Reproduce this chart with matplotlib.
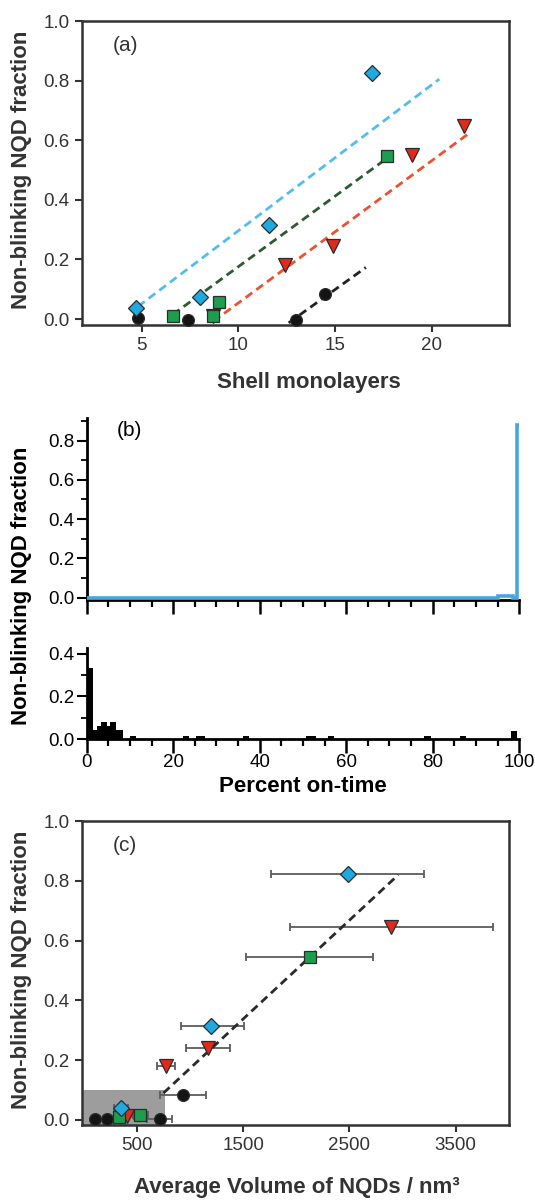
import numpy as np
import matplotlib
matplotlib.use('Agg')
import matplotlib.pyplot as plt
from matplotlib.patches import Rectangle
from matplotlib.ticker import MultipleLocator

plt.rcParams['font.family'] = ['Liberation Sans', 'DejaVu Sans']

# -------------------------------------------------------
# panel (a): non-blinking fraction vs shell monolayers
blue_ml = [4.7, 8.0, 11.6, 16.9]
blue_frac = [0.037, 0.073, 0.314, 0.826]
green_ml = [6.6, 8.7, 9.0, 17.7]
green_frac = [0.009, 0.009, 0.057, 0.546]
red_ml = [8.7, 12.4, 14.9, 19.0, 21.7]
red_frac = [0.010, 0.182, 0.244, 0.551, 0.647]
black_ml = [4.8, 7.4, 13.0, 14.5]
black_frac = [0.004, -0.002, -0.002, 0.084]

# end points of the dashed linear fits
blue_fit_x = [4.8, 20.4]
blue_fit_y = [0.042, 0.805]
green_fit_x = [6.6, 17.6]
green_fit_y = [0.015, 0.535]
red_fit_x = [8.7, 22.0]
red_fit_y = [-0.008, 0.626]
black_fit_x = [12.6, 16.6]
black_fit_y = [-0.013, 0.173]

# -------------------------------------------------------
# panel (b): on-time histograms
blue_edges = [0, 95, 98.5, 99.5, 100]
blue_hist = [0.0, 0.01, 0.0, 0.88]
black_edges = [0, 1.5, 2.3, 3.3, 4.7, 5.3, 6.7, 8.5, 10, 11.5, 22.3, 23.6,
               25.2, 27.3, 36.2, 37.6, 50.8, 53.1, 55.8, 57.3, 78.1, 79.6,
               86.2, 87.7, 98.0, 99.6]
black_hist = [0.335, 0.04, 0.06, 0.08, 0.06, 0.08, 0.04, 0.0, 0.012, 0.0,
              0.012, 0.0, 0.012, 0.0, 0.012, 0.0, 0.012, 0.0, 0.012, 0.0,
              0.012, 0.0, 0.012, 0.0, 0.036]

# -------------------------------------------------------
# panel (c): fraction vs average volume (nm^3), with x ranges
blue_vol = [349, 1198, 2490]
blue_vfrac = [0.039, 0.314, 0.824]
blue_lo = [286, 910, 1760]
blue_hi = [419, 1505, 3205]
red_vol = [405, 774, 1167, 2896]
red_vfrac = [0.013, 0.180, 0.242, 0.646]
red_lo = [340, 690, 960, 1940]
red_hi = [470, 862, 1380, 3855]
green_vol = [335, 525, 2126]
green_vfrac = [0.011, 0.017, 0.546]
green_lo = [300, 466, 1522]
green_hi = [380, 607, 2726]
black_vol = [106, 222, 720, 934]
black_vfrac = [0.004, 0.002, 0.002, 0.084]
black_lo = [106, 222, 594, 714]
black_hi = [106, 222, 830, 1154]
fit_vol = [750, 2960]
fit_frac = [0.09, 0.82]
shade_vol = 765
shade_frac = 0.1

BLUE = '#1fa9e1'
GREEN = '#1c9e4e'
RED = '#e02a1d'
BLACK = '#141414'
EDGE = '#2b2b2b'
GREY = '#333333'


def box_axes(ax):
    for s in ax.spines.values():
        s.set_linewidth(1.8)
        s.set_color(GREY)
    ax.tick_params(direction='out', length=5, width=1.5, color=GREY,
                   labelcolor=GREY, labelsize=13.5, pad=4,
                   top=False, right=False)


def markers(ax, x, y, m, c, ms):
    ax.plot(x, y, m, color=c, mec=EDGE, mew=0.9, ms=ms, ls='none',
            zorder=5, clip_on=False)


fig = plt.figure(figsize=(5.35, 12), dpi=100)

# ---- (a)
ax = fig.add_axes([0.1533, 0.7292, 0.7977, 0.2533])
box_axes(ax)
dash = dict(ls=(0, (3, 1.8)), lw=2.0, zorder=3)
ax.plot(blue_fit_x, blue_fit_y, color='#55bde9', **dash)
ax.plot(green_fit_x, green_fit_y, color='#2f5a2f', **dash)
ax.plot(red_fit_x, red_fit_y, color='#ea5231', **dash)
ax.plot(black_fit_x, black_fit_y, color='#222222', **dash)
markers(ax, black_ml, black_frac, 'o', BLACK, 8.5)
markers(ax, red_ml, red_frac, 'v', RED, 9.5)
markers(ax, green_ml, green_frac, 's', GREEN, 8)
markers(ax, blue_ml, blue_frac, 'D', BLUE, 8.5)
ax.set_xlim(1.9, 24.0)
ax.set_ylim(-0.02, 1.0)
ax.set_xticks([5, 10, 15, 20])
ax.set_yticks([0.0, 0.2, 0.4, 0.6, 0.8, 1.0])
ax.yaxis.set_major_formatter(matplotlib.ticker.FormatStrFormatter('%.1f'))
ax.text(0.072, 0.92, '(a)', transform=ax.transAxes, fontsize=15,
        color=GREY, va='center')
fig.text(0.577, 1 - 383 / 1200, 'Shell monolayers', ha='center',
         va='center', fontsize=16, fontweight='bold', color=GREY)
fig.text(0.041, 1 - 170 / 1200, 'Non-blinking NQD fraction', rotation=90,
         ha='center', va='center', fontsize=16, fontweight='bold',
         color=GREY)

# ---- (b) upper and lower histograms
axu = fig.add_axes([0.1619, 1 - 600 / 1200, 0.8086, 182 / 1200])
axl = fig.add_axes([0.1619, 1 - 739 / 1200, 0.8086, 91 / 1200])
for a in (axu, axl):
    a.spines['top'].set_visible(False)
    a.spines['right'].set_visible(False)
    a.spines['left'].set_linewidth(2.0)
    a.spines['bottom'].set_linewidth(2.0)
    a.set_xlim(0, 100)
    a.xaxis.set_major_locator(MultipleLocator(20))
    a.xaxis.set_minor_locator(MultipleLocator(5))
    a.yaxis.set_major_locator(MultipleLocator(0.2))
    a.yaxis.set_minor_locator(MultipleLocator(0.1))
    a.yaxis.set_major_formatter(matplotlib.ticker.FormatStrFormatter('%.1f'))
    a.tick_params(axis='x', which='major', direction='out', length=10,
                  width=1.8, pad=1, labelsize=13.5)
    a.tick_params(axis='x', which='minor', direction='out', length=5,
                  width=1.6)
    a.tick_params(axis='y', which='major', direction='out', length=7,
                  width=1.5, pad=2, labelsize=13.5)
    a.tick_params(axis='y', which='minor', direction='out', length=4,
                  width=1.3)

axu.stairs(blue_hist, blue_edges, baseline=None, color='#47a7dd', lw=2.6,
           clip_on=False, zorder=4)
axu.set_ylim(-0.012, 0.915)
axu.tick_params(axis='x', labelbottom=False)
axu.text(0.07, 0.93, '(b)', transform=axu.transAxes, fontsize=15,
         va='center')

axl.stairs(black_hist, black_edges, fill=True, color='black', zorder=3)
axl.set_ylim(0, 0.428)
axl.set_yticks([0.0, 0.2, 0.4])
fig.text(0.566, 1 - 787 / 1200, 'Percent on-time', ha='center',
         va='center', fontsize=16, fontweight='bold')
fig.text(0.041, 1 - 586 / 1200, 'Non-blinking NQD fraction', rotation=90,
         ha='center', va='center', fontsize=16, fontweight='bold')

# ---- (c)
axc = fig.add_axes([0.1533, 0.0625, 0.7977, 0.2533])
box_axes(axc)
axc.set_xlim(-17, 4000)
axc.set_ylim(-0.017, 1.0)
axc.add_patch(Rectangle((-17, -0.017), shade_vol + 17, shade_frac + 0.017,
                        facecolor='#9d9d9d', edgecolor='none', zorder=1))
eb = dict(fmt='none', ecolor='#5c5c5c', elinewidth=1.3, capsize=3,
          capthick=1.3, zorder=2)
for v, f, lo, hi in ((blue_vol, blue_vfrac, blue_lo, blue_hi),
                     (red_vol, red_vfrac, red_lo, red_hi),
                     (green_vol, green_vfrac, green_lo, green_hi),
                     (black_vol, black_vfrac, black_lo, black_hi)):
    v = np.array(v)
    err = [v - np.array(lo), np.array(hi) - v]
    axc.errorbar(v, f, xerr=err, **eb)
axc.plot(fit_vol, fit_frac, color='#2a2a2a', ls=(0, (3, 1.8)), lw=2.0,
         zorder=3)
markers(axc, black_vol, black_vfrac, 'o', BLACK, 8.5)
markers(axc, red_vol, red_vfrac, 'v', RED, 9.5)
markers(axc, green_vol, green_vfrac, 's', GREEN, 8)
markers(axc, blue_vol, blue_vfrac, 'D', BLUE, 8.5)
axc.set_xticks([500, 1500, 2500, 3500])
axc.set_yticks([0.0, 0.2, 0.4, 0.6, 0.8, 1.0])
axc.yaxis.set_major_formatter(matplotlib.ticker.FormatStrFormatter('%.1f'))
axc.text(0.072, 0.92, '(c)', transform=axc.transAxes, fontsize=15,
         color=GREY, va='center')
fig.text(0.555, 1 - 1187 / 1200, 'Average Volume of NQDs / nm\u00b3',
         ha='center', va='center', fontsize=16, fontweight='bold',
         color=GREY)
fig.text(0.041, 1 - 970 / 1200, 'Non-blinking NQD fraction', rotation=90,
         ha='center', va='center', fontsize=16, fontweight='bold',
         color=GREY)

fig.savefig('out.png', dpi=100)
